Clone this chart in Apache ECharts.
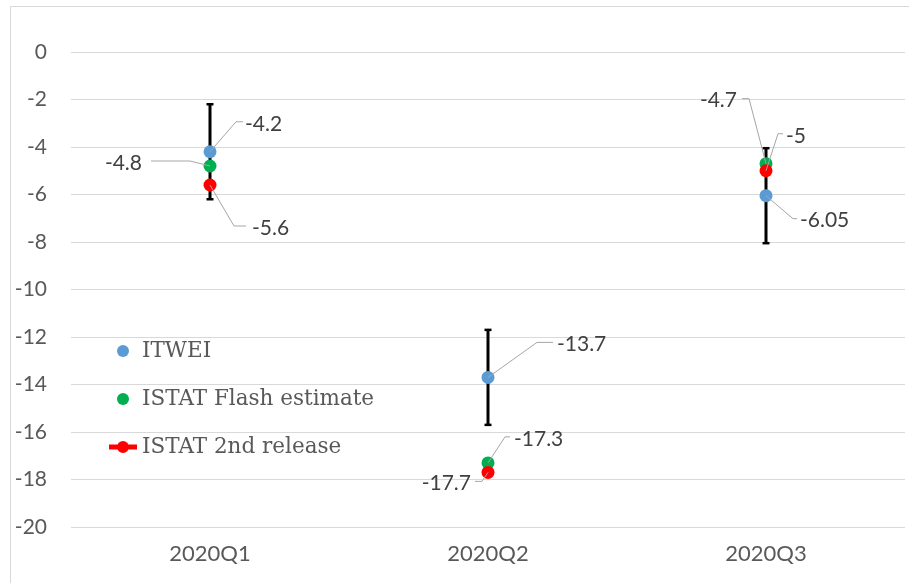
<!DOCTYPE html>
<html><head><meta charset="utf-8">
<script src="https://cdn.jsdelivr.net/npm/echarts@6/dist/echarts.min.js"></script>
<style>html,body{margin:0;padding:0;background:#fff}#c{width:909px;height:583px}</style>
</head><body><div id="c"></div>
<script>
// ---- data ----
const categories = ['2020Q1', '2020Q2', '2020Q3'];
const itwei = [-4.2, -13.7, -6.05];
const istatFlash = [-4.8, -17.3, -4.7];
const istat2nd = [-5.6, -17.7, -5.0];
const itweiLow = [-6.2, -15.7, -8.05];
const itweiHigh = [-2.2, -11.7, -4.05];
const seriesNames = ['ITWEI', 'ISTAT Flash estimate', 'ISTAT 2nd release'];
const yMin = -20, yMax = 0, yStep = 2;

// ---- styling / label placement (pixel offsets from each point) ----
const colors = ['#5B9BD5', '#00B050', '#FF0000'];
const labelLayout = [
  // ITWEI
  [{ex: 26, ey: -30, hx: 33, tx: 35, al: 'left'},
   {ex: 49, ey: -35, hx: 65, tx: 69, al: 'left'},
   {ex: 27, ey: 23, hx: 31, tx: 34, al: 'left'}],
  // Flash
  [{ex: -20, ey: -5, hx: -59, tx: -68, al: 'right'},
   {ex: 17, ey: -26, hx: 22, tx: 26, al: 'left'},
   {ex: -17, ey: -65, hx: -24, tx: -29, al: 'right'}],
  // 2nd release
  [{ex: 24, ey: 41, hx: 36, tx: 42, al: 'left'},
   {ex: -6, ey: 9, hx: -13, tx: -17, al: 'right'},
   {ex: 12, ey: -37, hx: 17, tx: 20, al: 'left'}]
];

const allSeries = [itwei, istatFlash, istat2nd];
const annData = [];
allSeries.forEach((arr, s) => arr.forEach((v, c) => annData.push([c, v, s])));
const errData = categories.map((_, c) => [c, itweiLow[c], itweiHigh[c]]);

const chart = echarts.init(document.getElementById('c'), null, {renderer: 'canvas'});
chart.setOption({
  animation: false,
  backgroundColor: '#fff',
  graphic: [{
    type: 'rect', left: 8, top: 4, z: -10,
    shape: {width: 920, height: 600},
    style: {fill: null, stroke: '#D9D9D9', lineWidth: 1}
  }],
  grid: {left: 71, right: 4, top: 52, bottom: 56, outerBoundsMode: 'none'},
  legend: {
    orient: 'vertical', left: 109, top: 340, padding: 0,
    itemWidth: 28, itemHeight: 12, itemGap: 26,
    textStyle: {fontFamily: 'DejaVu Serif', fontSize: 21.5, color: '#595959', lineHeight: 21},
    data: [
      {name: seriesNames[0]},
      {name: seriesNames[1]},
      {name: seriesNames[2], icon: 'path://M0,3.5H28V8.5H0Z M8,6a6,6 0 1,1 12,0a6,6 0 1,1 -12,0Z'}
    ]
  },
  xAxis: {
    type: 'category', data: categories, boundaryGap: true,
    axisLine: {show: false}, axisTick: {show: false},
    axisLabel: {fontFamily: 'Lato', fontSize: 22, color: '#595959', margin: 16}
  },
  yAxis: {
    type: 'value', min: yMin, max: yMax, interval: yStep,
    axisLine: {show: false}, axisTick: {show: false},
    splitLine: {lineStyle: {color: '#D9D9D9', width: 1}},
    axisLabel: {fontFamily: 'Lato', fontSize: 21, color: '#595959', margin: 24}
  },
  series: [
    {
      type: 'custom', name: 'errorbar', z: 1, silent: true,
      data: errData, encode: {x: 0, y: [1, 2]},
      renderItem: function (params, api) {
        const c = api.value(0);
        const lo = api.coord([c, api.value(1)]);
        const hi = api.coord([c, api.value(2)]);
        const hw = 3.5;
        return {type: 'group', children: [
          {type: 'line', shape: {x1: lo[0], y1: lo[1], x2: hi[0], y2: hi[1]}, style: {stroke: '#000', lineWidth: 3}},
          {type: 'line', shape: {x1: lo[0] - hw, y1: lo[1], x2: lo[0] + hw, y2: lo[1]}, style: {stroke: '#000', lineWidth: 2.5}},
          {type: 'line', shape: {x1: hi[0] - hw, y1: hi[1], x2: hi[0] + hw, y2: hi[1]}, style: {stroke: '#000', lineWidth: 2.5}}
        ]};
      }
    },
    {type: 'scatter', name: seriesNames[0], data: itwei, symbolSize: 13, z: 2, itemStyle: {color: colors[0], opacity: 1}},
    {type: 'scatter', name: seriesNames[1], data: istatFlash, symbolSize: 13, z: 3, itemStyle: {color: colors[1], opacity: 1}},
    {type: 'scatter', name: seriesNames[2], data: istat2nd, symbolSize: 13, z: 4, itemStyle: {color: colors[2], opacity: 1}},
    {
      type: 'custom', name: 'labels', z: 5, silent: true,
      data: annData, encode: {x: 0, y: 1},
      renderItem: function (params, api) {
        const c = api.value(0), v = api.value(1), s = api.value(2);
        const p = api.coord([c, v]);
        const L = labelLayout[s][c];
        return {type: 'group', children: [
          {type: 'polyline', shape: {points: [[p[0], p[1]], [p[0] + L.ex, p[1] + L.ey], [p[0] + L.hx, p[1] + L.ey]]},
           style: {stroke: '#A6A6A6', lineWidth: 1, fill: null}},
          {type: 'text', style: {text: String(v), x: p[0] + L.tx, y: p[1] + L.ey + 2,
            align: L.al, verticalAlign: 'middle', font: '21px Lato', fill: '#404040'}}
        ]};
      }
    }
  ]
});
</script>
</body></html>
